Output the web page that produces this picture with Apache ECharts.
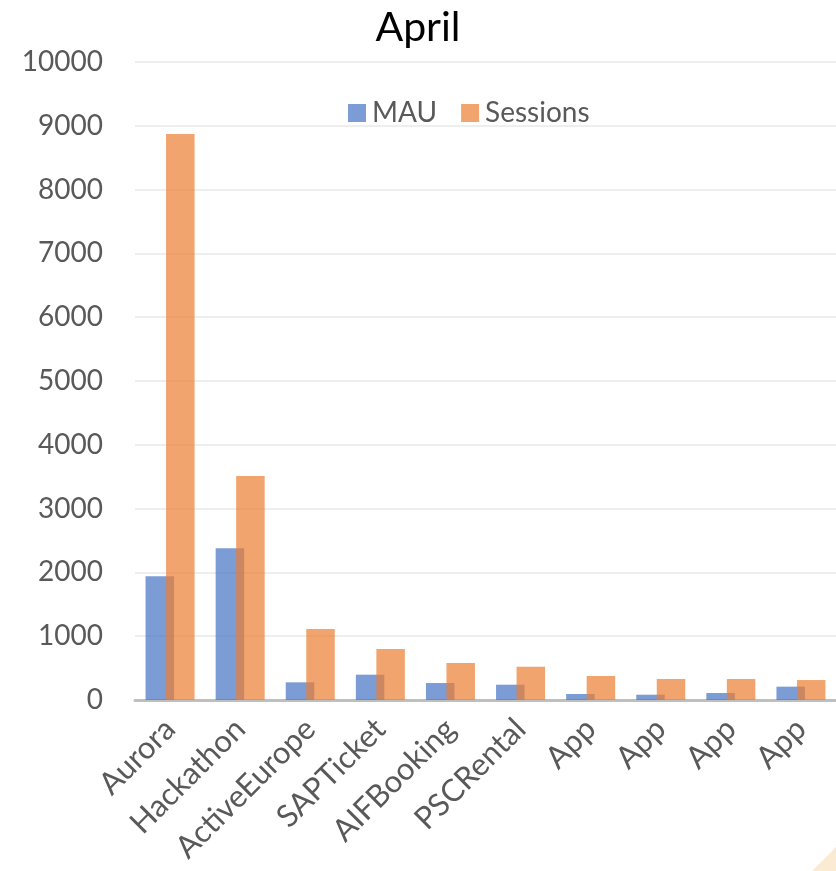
<!DOCTYPE html>
<html>
<head>
<meta charset="utf-8">
<script src="https://cdn.jsdelivr.net/npm/echarts@6/dist/echarts.min.js"></script>
<style>html,body{margin:0;padding:0;background:#fff}#c{width:836px;height:871px}</style>
</head>
<body>
<div id="c"></div>
<script>
const categories = ['Aurora','Hackathon','ActiveEurope','SAPTicket','AIFBooking','PSCRental','App','App','App','App'];
const mau = [1940, 2380, 277, 397, 266, 240, 94, 83, 110, 209];
const sessions = [8870, 3510, 1113, 800, 580, 522, 376, 329, 329, 313];
const yTicks = [0, 10000, 1000];

const chart = echarts.init(document.getElementById('c'), null, {renderer:'canvas'});
const font = 'Lato, "Open Sans", sans-serif';
chart.setOption({
  animation:false,
  backgroundColor:'#fff',
  title:{text:'April', left:'center', top:2, textStyle:{fontFamily:font, fontSize:41, fontWeight:'normal', color:'#000'}},
  legend:{top:94, left:343, itemWidth:18, itemHeight:18, itemGap:24, icon:'rect',
    textStyle:{fontFamily:font, fontSize:28, color:'#595959', padding:[0,0,0,1]},
    data:['MAU','Sessions']},
  grid:{left:135, top:62, width:715, height:638, containLabel:false},
  xAxis:{type:'category', data:categories,
    axisLine:{lineStyle:{color:'#BFBFBF', width:3}},
    axisTick:{show:false},
    axisLabel:{rotate:45, interval:0, fontFamily:font, fontSize:31, color:'#595959', margin:24}},
  yAxis:{type:'value', min:yTicks[0], max:yTicks[1], interval:yTicks[2],
    axisLine:{show:false}, axisTick:{show:false},
    splitLine:{lineStyle:{color:'#EEEEEE', width:2}},
    axisLabel:{fontFamily:font, fontSize:28, color:'#595959', margin:32, formatter:v=>String(v)}},
  series:[
    {name:'MAU', type:'bar', data:mau, barWidth:28.5, barGap:'-28%',
      itemStyle:{color:'#4472C4', opacity:0.7}},
    {name:'Sessions', type:'bar', data:sessions, barWidth:28.5, barGap:'-28%',
      itemStyle:{color:'#ED7D31', opacity:0.7}}
  ],
  graphic:[{type:'polygon', shape:{points:[[812,871],[836,847],[836,871]]}, style:{fill:'#FCEBD3'}, silent:true}]
});
</script>
</body>
</html>
